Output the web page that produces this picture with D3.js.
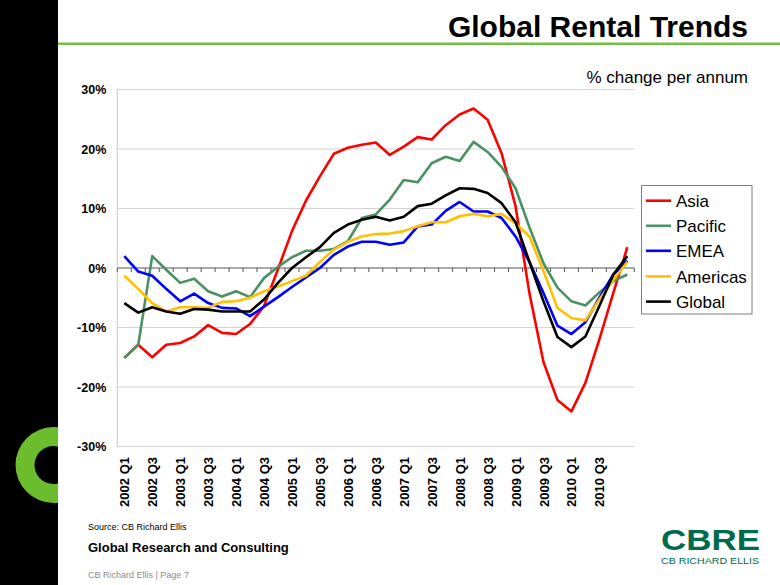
<!DOCTYPE html>
<html><head><meta charset="utf-8">
<script src="https://cdn.jsdelivr.net/npm/d3@7"></script>
<style>body{margin:0;background:#fff}svg{display:block}text{font-family:"Liberation Sans",Arial,sans-serif}</style>
</head><body><svg id="c" width="780" height="585"></svg>
<script>
const categories = ["2002 Q1","2002 Q2","2002 Q3","2002 Q4","2003 Q1","2003 Q2","2003 Q3","2003 Q4",
  "2004 Q1","2004 Q2","2004 Q3","2004 Q4","2005 Q1","2005 Q2","2005 Q3","2005 Q4",
  "2006 Q1","2006 Q2","2006 Q3","2006 Q4","2007 Q1","2007 Q2","2007 Q3","2007 Q4",
  "2008 Q1","2008 Q2","2008 Q3","2008 Q4","2009 Q1","2009 Q2","2009 Q3","2009 Q4",
  "2010 Q1","2010 Q2","2010 Q3","2010 Q4","2011 Q1"];
const tickLabels = ["2002 Q1","2002 Q3","2003 Q1","2003 Q3","2004 Q1","2004 Q3","2005 Q1","2005 Q3",
  "2006 Q1","2006 Q3","2007 Q1","2007 Q3","2008 Q1","2008 Q3","2009 Q1","2009 Q3","2010 Q1","2010 Q3"];
const yTicks = [30,20,10,0,-10,-20,-30];
const seriesNames = ["Asia","Pacific","EMEA","Americas","Global"];
const seriesColors = ["#ff0000","#4a9163","#0000ff","#ffc000","#000000"];
const asia = [-15.1,-12.9,-15.0,-12.9,-12.6,-11.5,-9.6,-10.9,-11.1,-9.4,-6.4,-0.2,6.2,11.3,15.4,19.2,
  20.2,20.7,21.1,19.0,20.4,22.0,21.6,24.0,25.8,26.8,24.9,19.3,10.4,-4.3,-15.8,-22.2,-24.1,-19.3,-12.0,-4.2,3.5];
const pacific = [-15.1,-12.9,2.0,-0.3,-2.5,-1.8,-3.9,-4.8,-3.9,-4.9,-1.7,0.2,1.8,2.9,2.9,3.2,
  4.5,8.4,9.0,11.5,14.8,14.4,17.6,18.7,18.0,21.2,19.5,17.0,13.4,6.8,0.8,-3.3,-5.6,-6.3,-4.1,-2.2,-1.1];
const emea = [2.0,-0.6,-1.3,-3.5,-5.6,-4.3,-5.9,-6.7,-6.8,-8.1,-6.5,-4.9,-3.2,-1.6,0.0,2.2,
  3.6,4.4,4.4,3.9,4.3,7.0,7.3,9.6,11.1,9.5,9.5,8.4,5.3,1.0,-4.2,-9.7,-11.1,-9.1,-5.0,-1.1,1.2];
const americas = [-1.3,-3.5,-5.9,-7.3,-6.6,-6.6,-6.7,-5.7,-5.6,-5.0,-3.9,-3.1,-2.2,-1.3,1.0,3.1,
  4.4,5.3,5.7,5.8,6.2,7.0,7.7,7.7,8.7,9.1,8.7,9.1,7.5,5.3,-0.5,-6.7,-8.4,-8.8,-5.3,-2.0,1.0];
const global = [-5.9,-7.5,-6.6,-7.3,-7.7,-6.9,-7.0,-7.3,-7.3,-7.3,-5.3,-2.5,0.0,1.8,3.5,5.9,
  7.3,8.1,8.6,8.0,8.6,10.4,10.8,12.2,13.4,13.3,12.6,10.9,7.7,1.0,-5.6,-11.6,-13.3,-11.5,-6.4,-1.1,2.0];
const seriesValues = [asia, pacific, emea, americas, global];

const svg = d3.select("#c");
const L = 117.3, R = 634.3, T = 89.5, B = 446.5;
const x = d3.scaleBand().domain(categories).range([L, R]);
const y = d3.scaleLinear().domain([-30, 30]).range([B, T]);
const bw = x.bandwidth();

// frame: black bar, green ring, green rule
svg.append("rect").attr("x",0).attr("y",0).attr("width",58).attr("height",585).attr("fill","#000");
svg.append("clipPath").attr("id","bar").append("rect").attr("x",0).attr("y",0).attr("width",58).attr("height",585);
svg.append("g").attr("clip-path","url(#bar)")
  .append("path")
  .attr("transform","translate(53.5,465)")
  .attr("d", d3.arc()({innerRadius:19, outerRadius:38, startAngle:0, endAngle:2*Math.PI}))
  .attr("fill","#6cbd2d");
svg.append("rect").attr("x",58).attr("y",42.5).attr("width",722).attr("height",2.5).attr("fill","#72bf44");

svg.append("text").attr("x",748).attr("y",37).attr("text-anchor","end")
  .attr("font-size",30).attr("font-weight","bold").text("Global Rental Trends");
svg.append("text").attr("x",748).attr("y",83).attr("text-anchor","end")
  .attr("font-size",17).text("% change per annum");

// gridlines
svg.append("g").selectAll("line").data(yTicks.filter(d => d !== 0)).join("line")
  .attr("x1",L).attr("x2",R).attr("y1",d=>y(d)).attr("y2",d=>y(d))
  .attr("stroke","#d4d4d4").attr("stroke-width",1);
svg.append("line").attr("x1",L).attr("x2",L).attr("y1",T).attr("y2",B).attr("stroke","#c8c8c8");

// y axis labels
const ya = svg.append("g").attr("transform",`translate(${L},0)`)
  .call(d3.axisLeft(y).tickValues(yTicks).tickFormat(d => d + "%").tickSize(0).tickPadding(11));
ya.select(".domain").remove();
ya.selectAll("text").attr("font-size",12.5).attr("font-weight","bold").attr("fill","#000")
  .style("font-family",'"Liberation Sans",Arial,sans-serif');

// zero line with ticks at band boundaries
const bounds = categories.map(c => x(c)).concat([R]);
svg.append("g").selectAll("line").data(bounds).join("line")
  .attr("x1",d=>d).attr("x2",d=>d).attr("y1",y(0)).attr("y2",y(0)+4)
  .attr("stroke","#555").attr("stroke-width",1);
svg.append("line").attr("x1",L).attr("x2",R).attr("y1",y(0)).attr("y2",y(0))
  .attr("stroke","#555").attr("stroke-width",1.2);

// x labels
svg.append("g").selectAll("text").data(tickLabels).join("text")
  .attr("transform", d => `translate(${x(d) + bw/2 + 0.5},457) rotate(-90)`)
  .attr("text-anchor","end").attr("dy","0.35em")
  .attr("font-size",13).attr("font-weight","bold").text(d => d);

// series
const line = d3.line().x((d,i) => x(categories[i]) + bw/2).y(d => y(d));
svg.append("g").selectAll("path").data(seriesValues).join("path")
  .attr("d", d => line(d)).attr("fill","none")
  .attr("stroke",(d,i) => seriesColors[i]).attr("stroke-width",2.6)
  .attr("stroke-linejoin","round");

// legend
const lg = svg.append("g");
lg.append("rect").attr("x",641.5).attr("y",185.5).attr("width",110.5).attr("height",128.5)
  .attr("fill","#fff").attr("stroke","#7f7f7f").attr("stroke-width",1);
const ly = [200.7,225.8,250.8,276.4,301.6];
seriesNames.forEach((n,i) => {
  lg.append("line").attr("x1",646).attr("x2",671).attr("y1",ly[i]).attr("y2",ly[i])
    .attr("stroke",seriesColors[i]).attr("stroke-width",2.6);
  lg.append("text").attr("x",676).attr("y",ly[i]).attr("dy","0.36em").attr("font-size",17).text(n);
});

// footer
svg.append("text").attr("x",88).attr("y",530).attr("font-size",9).text("Source: CB Richard Ellis");
svg.append("text").attr("x",88).attr("y",552).attr("font-size",13).attr("font-weight","bold").text("Global Research and Consulting");
svg.append("text").attr("x",88).attr("y",578).attr("font-size",9).attr("fill","#8c8c8c").text("CB Richard Ellis  |  Page 7");
svg.append("text").attr("x",661).attr("y",550).attr("font-size",30).attr("font-weight","bold")
  .attr("fill","#006a4d").attr("textLength",99).attr("lengthAdjust","spacingAndGlyphs").text("CBRE");
svg.append("text").attr("x",661).attr("y",563.5).attr("font-size",9.4)
  .attr("fill","#006a4d").attr("textLength",98).attr("lengthAdjust","spacingAndGlyphs").text("CB RICHARD ELLIS");
</script></body></html>
